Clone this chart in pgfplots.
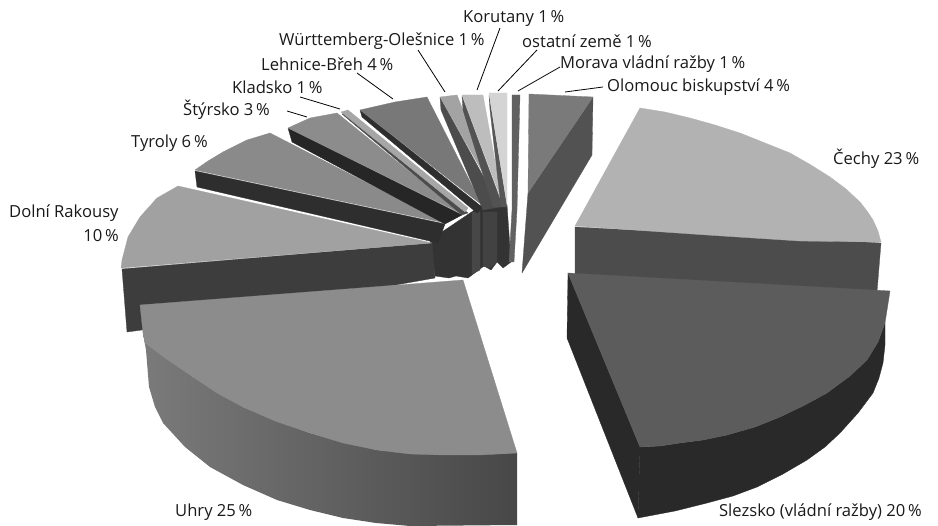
\documentclass[border=0pt]{standalone}
\usepackage{fontspec}
\setmainfont{Open Sans}
\usepackage{pgfplots}
\pgfplotsset{compat=1.18}
\tikzset{poly/.style={draw=#1,line width=0.3pt,fill=#1,line join=round},
 lead/.style={draw=black,line width=0.8pt},
 lab/.style={font=\fontsize{16.6pt}{18pt}\selectfont,inner sep=0pt,anchor=west,text=black!90}}
\newcommand{\G}[1]{black!#1}
\begin{document}
\begin{tikzpicture}
\begin{axis}[scale only axis,width=938pt,height=526pt,xmin=0,xmax=938,ymin=0,ymax=526,y dir=reverse,hide axis,clip=false,no markers]
\path (axis cs:0,0) -- (axis cs:938,526);
% Cechy
\addplot[poly=\G{70}] coordinates {(575,227)(881,243)(877,292)(575,275)(575,227)};
\addplot[poly=\G{30}] coordinates {(640,108)(665,112)(690,118)(715,125)(740,133)(765,143)(790,153)(811,165)(830,177)(846,189)(860,202)(867,211)(873,220)(878,231)(881,242)(800,241)(707,235)(575,226)(640,108)};
% Central block
\addplot[poly=\G{80}] coordinates {(430,240)(482,205)(507,205)(511,262)(503,268)(497,262)(491,270)(484,266)(476,272)(468,278)(456,276)(449,278)(435,276)(430,240)};
\addplot[poly=\G{72}] coordinates {(472,212)(480,212)(480,270)(472,274)(472,212)};
\addplot[poly=\G{74}] coordinates {(483,212)(497,212)(497,262)(490,268)(483,266)(483,212)};
% Dolni Rakousy
\addplot[poly=\G{76}] coordinates {(122,269)(432,243)(435,278)(142,330)(127,332)(122,269)};
\addplot[poly=\G{37}] coordinates {(178,186)(157,198)(140,217)(128,237)(122,260)(121,268)(432,243)(178,186)};
% Tyroly
\addplot[poly=\G{82}] coordinates {(195,171)(445,224)(438,243)(197,187)(195,171)};
\addplot[poly=\G{46}] coordinates {(270,133)(247,140)(223,152)(208,161)(195,170)(445,223)(270,133)};
% Styrsko
\addplot[poly=\G{85}] coordinates {(288,128)(462,215)(445,224)(292,142)(288,128)};
\addplot[poly=\G{45}] coordinates {(337,113)(310,118)(288,128)(462,214)(337,113)};
% Kladsko
\addplot[poly=\G{70}] coordinates {(342,114)(346,113)(468,213)(462,215)(342,114)};
\addplot[poly=\G{35}] coordinates {(341,112)(348,110)(468,208)(465,212)(341,112)};
% Lehnice
\addplot[poly=\G{82}] coordinates {(360,110)(362,117)(477,213)(482,207)(360,110)};
\addplot[poly=\G{53}] coordinates {(360,110)(395,102)(427,97)(482,205)(360,110)};
% Wurttemberg
\addplot[poly=\G{70}] coordinates {(440,97)(441,110)(483,210)(500,207)(440,97)};
\addplot[poly=\G{36}] coordinates {(440,97)(457,95)(500,203)(440,97)};
% Korutany
\addplot[poly=\G{68}] coordinates {(462,96)(463,110)(493,207)(503,207)(462,96)};
\addplot[poly=\G{26}] coordinates {(462,95)(483,95)(503,204)(462,95)};
% ostatni
\addplot[poly=\G{66}] coordinates {(489,95)(490,110)(501,207)(507,207)(489,95)};
\addplot[poly=\G{17}] coordinates {(489,93)(507,93)(507,204)(489,93)};
% Morava
\addplot[poly=\G{62}] coordinates {(512,95)(520,95)(517,210)(514,262)(509,262)(512,210)(512,95)};
% Olomouc
\addplot[poly=\G{68}] coordinates {(593,97)(592,155)(522,273)(528,193)(593,97)};
\addplot[poly=\G{52}] coordinates {(529,94)(593,97)(528,193)(529,94)};
% Slezsko
\addplot[poly=\G{84}] coordinates {(568,273)(640,447)(638,518)(567,338)(568,273)};
\addplot[poly=\G{84}] coordinates {(640,447)(660,446)(680,443)(703,440)(727,435)(755,427)(780,417)(805,405)(827,393)(850,376)(867,360)(878,342)(885,323)(885,345)(883,363)(879,378)(873,393)(858,413)(840,433)(825,447)(807,460)(783,474)(757,487)(733,496)(707,503)(675,511)(638,518)(640,447)};
\addplot[poly=\G{64}] coordinates {(568,273)(890,291)(885,323)(878,342)(867,360)(850,376)(827,393)(805,405)(780,417)(755,427)(727,435)(703,440)(680,443)(660,446)(640,447)(568,273)};
% Uhry
\addplot[draw=none,left color=\G{52},right color=\G{72}] coordinates {(143,333)(146,350)(149,387)(155,407)(163,423)(185,447)(210,467)(243,485)(277,500)(310,510)(343,518)(376,523)(410,526)(517,525)(517,453)(443,455)(377,450)(310,433)(243,407)(193,377)(143,333)};
\addplot[poly=\G{45}] coordinates {(140,305)(463,280)(517,453)(480,455)(443,455)(410,454)(377,450)(343,443)(310,433)(275,421)(243,407)(217,393)(193,377)(165,358)(145,343)(143,333)(140,305)};
% leaders
\addplot[lead] coordinates {(500,28)(477,90)};
\addplot[lead] coordinates {(418,50)(445,92)};
\addplot[lead] coordinates {(357,73)(393,99)};
\addplot[lead] coordinates {(300,97)(340,109)};
\addplot[lead] coordinates {(287,111)(307,117)};
\addplot[lead] coordinates {(537,50)(498,91)};
\addplot[lead] coordinates {(560,67)(518,91)};
\addplot[lead] coordinates {(603,87)(565,92)};
% labels
\node[lab] at (axis cs:463,18) {Korutany 1\,\%};
\node[lab] at (axis cs:279,41) {Württemberg-Olešnice 1\,\%};
\node[lab] at (axis cs:522,41) {ostatní země 1\,\%};
\node[lab] at (axis cs:261,64) {Lehnice-Břeh 4\,\%};
\node[lab] at (axis cs:560,64) {Morava vládní ražby 1\,\%};
\node[lab] at (axis cs:232,87) {Kladsko 1\,\%};
\node[lab] at (axis cs:607,87) {Olomouc biskupství 4\,\%};
\node[lab] at (axis cs:183,110) {Štýrsko 3\,\%};
\node[lab] at (axis cs:131,143) {Tyroly 6\,\%};
\node[lab] at (axis cs:833,159) {Čechy 23\,\%};
\node[lab] at (axis cs:9,213) {Dolní Rakousy};
\node[lab,anchor=east] at (axis cs:119,236) {10\,\%};
\node[lab] at (axis cs:175,512) {Uhry 25\,\%};
\node[lab,anchor=east] at (axis cs:922,512) {Slezsko (vládní ražby) 20\,\%};
\end{axis}
\end{tikzpicture}
\end{document}
